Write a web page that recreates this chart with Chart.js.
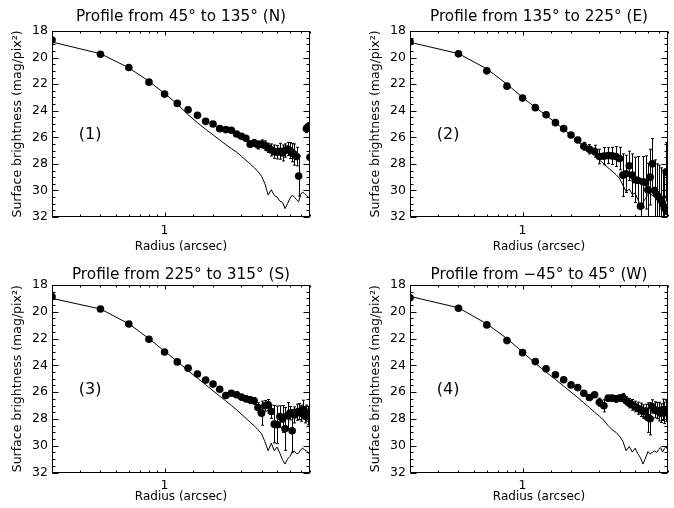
<!DOCTYPE html>
<html>
<head>
<meta charset="utf-8">
<script src="https://cdn.jsdelivr.net/npm/chart.js@4.4.0/dist/chart.umd.min.js"></script>
<style>
    html, body { margin: 0; padding: 0; background: #fff; }
    #wrap { position: relative; width: 674px; height: 508px; overflow: hidden; }
    .panel { position: absolute; width: 316px; height: 254px; }
</style>
</head>
<body>
<div id="wrap">
    <div class="panel" style="left:0;top:0"><canvas id="cN"></canvas></div>
    <div class="panel" style="left:358px;top:0"><canvas id="cE"></canvas></div>
    <div class="panel" style="left:0;top:254px"><canvas id="cS"></canvas></div>
    <div class="panel" style="left:358px;top:254px"><canvas id="cW"></canvas></div>
</div>
<script>
// Rayons (arcsec), communs aux quatre profils
const radius = [0.2, 0.4, 0.6, 0.8, 1.0, 1.2, 1.4, 1.6, 1.8, 2.0,
                2.2, 2.4, 2.6, 2.8, 3.0, 3.2, 3.4, 3.6, 3.8, 4.0,
                4.2, 4.4, 4.6, 4.8, 5.0, 5.2, 5.4, 5.6, 5.8, 6.0,
                6.2, 6.4, 6.6, 6.8, 7.0, 7.2, 7.4, 7.6, 7.8, 8.0];

// Nord (45° -> 135°)
const profN = [18.68, 19.75, 20.75, 21.85, 22.75, 23.45, 23.93, 24.35, 24.8, 25.0,
               25.35, 25.42, 25.47, 25.75, 25.92, 26.07, 26.52, 26.42, 26.58, 26.5,
               26.62, 26.8, 26.95, 27.08, 27.13, 27.05, 27.18, 27.0, 26.88, 27.0,
               27.15, 27.3, 27.45, 28.92, null, null, null, 25.35, 25.2, 27.5];
const errN  = [0, 0, 0, 0, 0.05, 0.05, 0.05, 0.08, 0.08, 0.1,
               0.1, 0.12, 0.12, 0.15, 0.15, 0.2, 0.25, 0.25, 0.3, 0.3,
               0.35, 0.35, 0.45, 0.5, 0.5, 0.6, 0.6, 0.5, 0.5, 0.6,
               0.7, 0.8, 0.7, 1.5, null, null, null, 0.3, 0.3, 0.5];
const modelN = [18.83, 19.71, 20.77, 21.78, 22.7, 23.5, 24.3, 24.9, 25.4, 25.82,
                26.2, 26.55, 26.85, 27.12, 27.42, 27.72, 28.0, 28.28, 28.58, 28.92,
                29.5, 30.35, 29.95, 30.38, 30.5, 30.8, 30.9, 31.37, 31.0, 30.6,
                30.36, 30.5, 30.7, 30.85, 30.3, 30.12, 30.25, 30.36, 30.5, 30.6];

// Est (135° -> 225°)
const profE = [18.8, 19.72, 21.0, 22.15, 23.05, 23.77, 24.3, 24.9, 25.35, 25.83,
               26.2, 26.68, 26.9, 27.05, 27.45, 27.42, 27.38, 27.4, 27.45, 27.6,
               28.85, 28.75, 28.15, 28.85, 29.2, 29.25, 31.2, 29.35, 29.4, 29.96,
               29.0, 28.0, 30.0, 30.3, 30.5, 30.7, 31.0, 31.35, 28.6, 31.6];
const errE  = [0, 0.02, 0.05, 0.05, 0.05, 0.08, 0.1, 0.1, 0.12, 0.15,
               0.2, 0.3, 0.35, 0.45, 0.55, 0.65, 0.6, 0.65, 0.75, 0.85,
               1.6, 1.4, 1.1, 1.6, 1.7, 1.8, 1.7, 1.9, 2.0, 2.0,
               2.1, 1.9, 2.3, 2.3, 2.4, 2.4, 2.5, 2.5, 2.2, 2.5];
const modelE = [18.85, 19.7, 20.85, 22.0, 23.0, 23.75, 24.35, 24.9, 25.4, 25.85,
                26.3, 26.7, 27.05, 27.4, 27.7, 28.0, 28.3, 28.55, 28.8, 29.1,
                29.6, 30.1, 29.9, 30.3, 30.2, 30.7, 31.2, 30.9, 30.6, 30.3,
                30.2, 30.4, 30.35, 29.95, 30.1, 30.35, 30.5, 30.3, 30.6, 30.7];

// Sud (225° -> 315°)
const profS = [18.87, 19.79, 20.91, 22.05, 23.0, 23.74, 24.21, 24.64, 25.1, 25.4,
               25.78, 26.25, 26.08, 26.2, 26.37, 26.5, 26.58, 26.65, 27.15, 27.57,
               27.02, 26.95, 27.45, 28.39, 28.44, 27.82, 28.0, 28.74, 27.77, 27.57,
               28.89, 27.7, 27.5, 27.45, 27.57, 27.3, 27.7, 27.57, 27.75, 27.45];
const errS  = [0, 0, 0.03, 0.05, 0.05, 0.05, 0.08, 0.1, 0.1, 0.12,
               0.12, 0.15, 0.15, 0.2, 0.2, 0.2, 0.25, 0.25, 0.35, 0.9,
               0.4, 0.4, 0.5, 1.4, 1.4, 0.8, 1.0, 1.6, 1.0, 0.5,
               1.6, 0.6, 0.6, 0.6, 0.6, 0.7, 0.6, 0.6, 0.7, 0.6];
const modelS = [19.0, 19.79, 20.9, 22.0, 22.95, 23.7, 24.4, 24.95, 25.45, 25.9,
                26.3, 26.65, 27.0, 27.32, 27.65, 27.95, 28.25, 28.5, 28.8, 29.1,
                29.7, 30.38, 29.8, 30.38, 30.1, 30.55, 31.05, 31.37, 31.0, 30.8,
                30.5, 30.4, 30.6, 30.55, 30.3, 30.18, 30.3, 30.38, 30.5, 30.68];

// Ouest (-45° -> 45°)
const profW = [18.95, 19.74, 20.98, 22.15, 23.05, 23.72, 24.26, 24.7, 25.08, 25.46,
               25.66, 26.08, 26.4, 26.2, 26.75, 27.02, 26.45, 26.45, 26.5, 26.45,
               26.4, 26.65, 26.82, 26.95, 27.07, 27.2, 27.32, 27.45, 27.4, 27.9,
               27.99, 27.07, 27.32, 27.38, 27.45, 27.57, 27.32, 27.55, 27.4, 27.5];
const errW  = [0, 0, 0.03, 0.05, 0.05, 0.05, 0.05, 0.08, 0.08, 0.1,
               0.1, 0.12, 0.15, 0.15, 0.3, 0.45, 0.2, 0.2, 0.25, 0.25,
               0.3, 0.3, 0.35, 0.4, 0.4, 0.45, 0.5, 0.5, 0.5, 1.1,
               1.2, 0.5, 0.6, 0.6, 0.7, 0.7, 0.8, 0.8, 0.8, 0.9];
const modelW = [18.85, 19.7, 20.9, 22.0, 23.0, 23.85, 24.5, 25.05, 25.55, 26.0,
                26.4, 26.8, 27.15, 27.5, 27.8, 28.1, 28.5, 28.8, 29.0, 29.28,
                29.68, 30.38, 30.06, 30.48, 30.18, 30.6, 30.9, 31.37, 30.92, 30.43,
                30.6, 30.5, 30.38, 30.5, 30.3, 30.13, 30.48, 30.2, 30.06, 30.38];

// Axes
const xRange = [0.2, 8];
const yRange = [18, 32];
const yStep = 2;

const FONT = "'DejaVu Sans', sans-serif";
Chart.defaults.font.family = FONT;
Chart.defaults.color = '#000';

/**
 * Cadre, graduations internes (style IDL), barres d'erreur, titre et étiquette
 */
const idlPlugin = {
    id: 'idlPlugin',
    afterDatasetsDraw(chart, args, opts) {
        const ctx = chart.ctx;
        const xs = chart.scales.x, ys = chart.scales.y;
        const a = chart.chartArea;
        ctx.save();
        ctx.beginPath();
        ctx.rect(a.left, a.top, a.right - a.left, a.bottom - a.top);
        ctx.clip();
        ctx.strokeStyle = '#000';
        ctx.lineWidth = 1;
        ctx.beginPath();
        radius.forEach((r, i) => {
            const v = opts.prof[i], e = opts.err[i];
            if (v == null || !e) return;
            const x = Math.round(xs.getPixelForValue(r)) + 0.5;
            const y1 = ys.getPixelForValue(v - e);
            const y2 = ys.getPixelForValue(v + e);
            ctx.moveTo(x, y1); ctx.lineTo(x, y2);
            ctx.moveTo(x - 1.5, y1); ctx.lineTo(x + 1.5, y1);
            ctx.moveTo(x - 1.5, y2); ctx.lineTo(x + 1.5, y2);
        });
        ctx.stroke();
        ctx.restore();
    },
    afterDraw(chart, args, opts) {
        const ctx = chart.ctx;
        const xs = chart.scales.x, ys = chart.scales.y;
        const a = chart.chartArea;
        const L = Math.round(a.left) + 0.5, R = Math.round(a.right) - 0.5;
        const T = Math.round(a.top) + 0.5, B = Math.round(a.bottom) - 0.5;
        ctx.save();
        ctx.strokeStyle = '#000';
        ctx.lineWidth = 1;
        ctx.strokeRect(L, T, R - L, B - T);
        ctx.beginPath();
        // graduations X (log)
        xs.ticks.forEach(t => {
            const len = Math.abs(t.value - 1) < 1e-9 ? 4 : 2;
            const x = Math.round(xs.getPixelForValue(t.value)) + 0.5;
            ctx.moveTo(x, B); ctx.lineTo(x, B - len);
            ctx.moveTo(x, T); ctx.lineTo(x, T + len);
        });
        // graduations Y : majeures tous les 2, mineures tous les 0.5
        for (let v = yRange[0]; v <= yRange[1] + 1e-9; v += yStep / 4) {
            const major = Math.abs(v / yStep - Math.round(v / yStep)) < 1e-6;
            const len = major ? 6 : 3;
            const y = Math.round(ys.getPixelForValue(v)) + 0.5;
            ctx.moveTo(L, y); ctx.lineTo(L + len, y);
            ctx.moveTo(R, y); ctx.lineTo(R - len, y);
        }
        ctx.stroke();
        ctx.fillStyle = '#000';
        ctx.textAlign = 'center';
        ctx.textBaseline = 'middle';
        // titre centré sur la zone de tracé
        ctx.font = '15.3px ' + FONT;
        ctx.fillText(opts.title, (a.left + a.right) / 2, opts.titleY);
        // étiquette du panneau
        ctx.font = '16px ' + FONT;
        ctx.fillText(opts.tag, xs.getPixelForValue(0.345), ys.getPixelForValue(25.85));
        ctx.restore();
    }
};

/**
 * Construire un panneau
 */
function makePanel(id, title, tag, prof, err, model, g) {
    const ctx = document.getElementById(id);
    return new Chart(ctx, {
        type: 'line',
        data: {
            datasets: [{
                data: radius.map((r, i) => ({ x: r, y: model[i] })),
                borderColor: '#000',
                borderWidth: 1,
                pointRadius: 0,
                tension: 0,
                clip: 0
            }, {
                data: radius.map((r, i) => ({ x: r, y: prof[i] })),
                showLine: false,
                pointRadius: 3.8,
                pointBackgroundColor: '#000',
                pointBorderWidth: 0,
                clip: 0
            }]
        },
        options: {
            responsive: true,
            maintainAspectRatio: false,
            animation: false,
            layout: { padding: { left: 0, right: 0.5, top: g.chartTop, bottom: 0 } },
            plugins: {
                legend: { display: false },
                tooltip: { enabled: false },
                title: { display: false },
                idlPlugin: { prof: prof, err: err, tag: tag, title: title, titleY: g.titleY }
            },
            scales: {
                x: {
                    type: 'logarithmic',
                    min: xRange[0],
                    max: xRange[1],
                    grid: { display: false, drawTicks: false },
                    border: { display: false },
                    ticks: {
                        autoSkip: false,
                        maxRotation: 0,
                        padding: 6,
                        font: { size: 12.5 },
                        callback: v => Math.abs(v - 1) < 1e-9 ? '1' : ''
                    },
                    title: {
                        display: true,
                        text: 'Radius (arcsec)',
                        font: { size: 12 },
                        padding: { top: 0, bottom: g.xTitleBottom }
                    },
                    afterFit: s => { s.height = 254 - g.chartBottom; }
                },
                y: {
                    type: 'linear',
                    reverse: true,
                    min: yRange[0],
                    max: yRange[1],
                    grid: { display: false, drawTicks: false },
                    border: { display: false },
                    ticks: { stepSize: yStep, padding: 4, font: { size: 12.5 } },
                    title: {
                        display: true,
                        text: 'Surface brightness (mag/pix²)',
                        font: { size: 12.5 },
                        padding: { top: 10.5, bottom: 0 }
                    },
                    afterFit: s => { s.width = 52; }
                }
            }
        },
        plugins: [idlPlugin]
    });
}

const topRow = { titleY: 17.5, chartTop: 31, chartBottom: 217, xTitleBottom: 0 };
const botRow = { titleY: 21, chartTop: 31, chartBottom: 218.5, xTitleBottom: 3.5 };

makePanel('cN', 'Profile from 45° to 135° (N)', '(1)', profN, errN, modelN, topRow);
makePanel('cE', 'Profile from 135° to 225° (E)', '(2)', profE, errE, modelE, topRow);
makePanel('cS', 'Profile from 225° to 315° (S)', '(3)', profS, errS, modelS, botRow);
makePanel('cW', 'Profile from \u221245° to 45° (W)', '(4)', profW, errW, modelW, botRow);
</script>
</body>
</html>
